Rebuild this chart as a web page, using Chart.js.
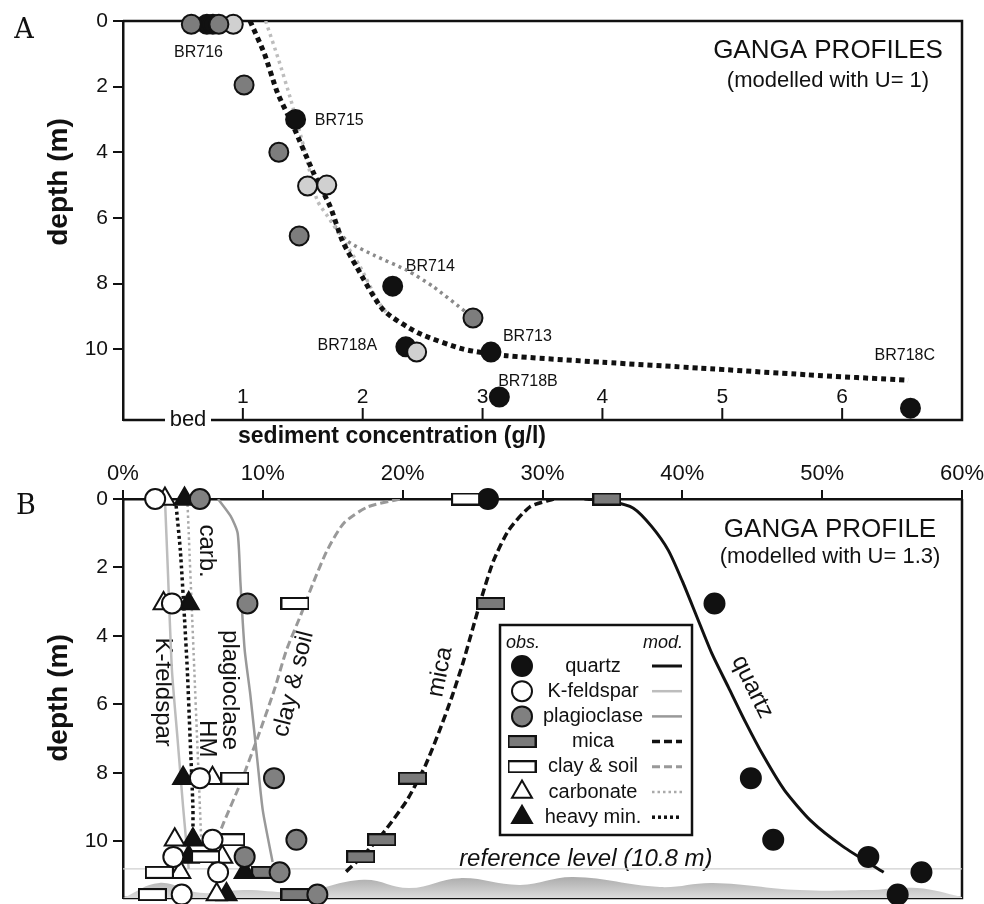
<!DOCTYPE html>
<html>
<head>
<meta charset="utf-8">
<title>Ganga profiles</title>
<script src="https://cdn.jsdelivr.net/npm/chart.js@4.4.1/dist/chart.umd.min.js"></script>
<style>
  html, body { margin: 0; padding: 0; background: #fff; }
  #wrap { position: relative; width: 984px; height: 904px; overflow: hidden; }
  canvas { position: absolute; left: 0; }
  #chartA { top: 0; }
  #chartB { top: 450px; }
</style>
</head>
<body>
<div id="wrap">
  <canvas id="chartA" width="984" height="450"></canvas>
  <canvas id="chartB" width="984" height="454"></canvas>
</div>
<script>
// ---------- panel A : sediment concentration (g/l) vs depth (m) ----------
const concTicks = [1, 2, 3, 4, 5, 6];
const depthTicks = [0, 2, 4, 6, 8, 10];

// observed samples, three grey shades
const blackConc  = [0.70, 0.75, 1.44, 2.25, 2.36, 3.07, 3.14, 6.57];
const blackDepth = [0.1, 0.1, 3.0, 8.08, 9.93, 10.09, 11.46, 11.8];
const midConc    = [0.57, 0.80, 1.01, 1.30, 1.47, 2.92];
const midDepth   = [0.1, 0.1, 1.95, 4.0, 6.55, 9.05];
const lightConc  = [0.92, 1.54, 1.70, 2.45];
const lightDepth = [0.1, 5.03, 5.0, 10.09];

// modelled profiles (U = 1)
const u1Conc  = [1.06, 1.18, 1.29, 1.42, 1.59, 1.73, 1.83, 1.95, 2.17, 2.46, 2.84, 3.2, 4.0, 4.82, 5.7, 6.55];
const u1Depth = [0, 1, 2.2, 3.2, 4.63, 5.67, 6.7, 7.5, 8.8, 9.5, 10.0, 10.2, 10.4, 10.58, 10.78, 10.95];
const lightModelConc  = [1.19, 1.30, 1.40, 1.52, 1.62, 1.73, 1.98, 2.12, 2.2];
const lightModelDepth = [0, 1.2, 2.4, 4.0, 5.46, 6.07, 7.5, 8.5, 8.9];
const midModelConc  = [1.73, 1.87, 2.1, 2.37, 2.59, 2.87];
const midModelDepth = [6.07, 6.7, 7.15, 7.6, 8.1, 8.9];

// ---------- panel B : composition (%) vs depth (m) ----------
const pctTicks = [0, 10, 20, 30, 40, 50, 60];
const sampleDepths = [0, 3.05, 8.15, 9.95, 10.45, 10.9, 11.55];
const quartzObs = [26.1, 42.3, 44.9, 46.5, 53.3, 57.1, 55.4];
const kfeldObs  = [2.3, 3.5, 5.5, 6.4, 3.6, 6.8, 4.2];
const plagObs   = [5.5, 8.9, 10.8, 12.4, 8.7, 11.2, 13.9];
const micaObs   = [34.6, 26.3, 20.7, 18.5, 17.0, 10.2, 12.3];
const clayObs   = [24.5, 12.3, 8.0, 7.7, 5.9, 2.6, 2.1];
const carbObs   = [3.0, 2.9, 6.4, 3.7, 7.1, 4.1, 6.7];
const heavyObs  = [4.4, 4.7, 4.3, 5.0, 4.7, 8.7, 7.4];

// modelled profiles (U = 1.3)
const quartzModPct   = [33, 35, 36.5, 37.8, 39.0, 40.0, 41.0, 42.1, 43.3, 44.5, 45.8, 47.3, 49.2, 51.5, 54.4];
const quartzModDepth = [0, 0.08, 0.27, 0.8, 1.5, 2.4, 3.4, 4.5, 5.5, 6.5, 7.5, 8.5, 9.4, 10.15, 10.9];
const micaModPct     = [30.8, 29.1, 27.6, 26.5, 25.7, 25.0, 24.3, 23.5, 22.6, 21.6, 20.3, 18.7, 17.2, 15.9];
const micaModDepth   = [0, 0.23, 0.9, 1.8, 2.8, 3.8, 4.8, 5.8, 6.8, 7.8, 8.8, 9.7, 10.4, 10.9];
const clayModPct     = [19.8, 17.5, 15.8, 14.6, 13.6, 12.7, 11.7, 10.8, 9.6, 8.4, 7.2, 6.2];
const clayModDepth   = [0, 0.23, 0.7, 1.5, 2.45, 3.4, 4.4, 5.6, 7.0, 8.3, 9.45, 10.5];
const plagModPct     = [6.8, 7.7, 8.2, 8.4, 8.7, 9.1, 9.6, 10.0, 10.7];
const plagModDepth   = [0, 0.5, 1.0, 2.45, 4.4, 5.7, 7.6, 9.1, 10.6];
const kfeldModPct    = [3.0, 3.2, 3.5, 3.9, 4.3, 4.7];
const kfeldModDepth  = [0, 2, 5, 7, 9, 10.8];
const carbModPct     = [4.6, 4.7, 4.9, 5.1, 5.3, 5.5, 5.6];
const carbModDepth   = [0, 1, 3, 5, 7, 9, 10];
const heavyModPct    = [3.8, 4.1, 4.4, 4.6, 4.8, 5.0, 5.0];
const heavyModDepth  = [0.2, 1.5, 3.5, 5, 7, 9, 9.8];

const referenceDepth = 10.8;
// river bed outline under the reference level
const bedPct   = [0, 2.6, 5.5, 8.6, 12.7, 17.2, 20.5, 24.1, 28.4, 32.2, 38.4, 42.2, 48.4, 53.2, 56.8, 60];
const bedDepth = [11.65, 11.21, 11.5, 11.42, 11.47, 11.12, 11.36, 11.07, 11.27, 11.04, 11.33, 11.21, 11.42, 11.42, 11.36, 11.62];

const legendNames = ['quartz', 'K-feldspar', 'plagioclase', 'mica', 'clay & soil', 'carbonate', 'heavy min.'];

// ---------- drawing ----------
const INK = '#111';
const SANS = "'Liberation Sans', Arial, Helvetica, sans-serif";
const SERIF = "'DejaVu Serif', 'Liberation Serif', serif";
Chart.defaults.font.family = SANS;
Chart.defaults.color = INK;

const pts = (xs, ys) => xs.map((v, i) => ({ x: v, y: ys[i] }));

function boxMarker(fill) {
  const c = document.createElement('canvas');
  c.width = 29; c.height = 13;
  const g = c.getContext('2d');
  g.fillStyle = fill; g.fillRect(1, 1, 27, 11);
  g.strokeStyle = INK; g.lineWidth = 2; g.strokeRect(1, 1, 27, 11);
  return c;
}

function obs(data, style, fill, radius) {
  return {
    data, showLine: false, pointStyle: style, pointRadius: radius, pointHoverRadius: radius,
    pointBackgroundColor: fill, pointBorderColor: INK, pointBorderWidth: 2, order: 0, clip: false
  };
}

function model(data, color, width, dash) {
  return {
    data, showLine: true, borderColor: color, borderWidth: width, borderDash: dash,
    borderCapStyle: 'butt', pointRadius: 0, tension: 0.22, fill: false, order: 2
  };
}

// keep the plot area exactly where we put it (no extra room for the end labels)
function noPad(s) {
  s.paddingTop = 0; s.paddingBottom = 0; s.paddingLeft = 0; s.paddingRight = 0;
}

function depthAxis(max) {
  return {
    type: 'linear', reverse: true, min: 0, max,
    afterBuildTicks: s => { s.ticks = depthTicks.map(v => ({ value: v })); },
    afterFit: s => { s.width = 123; noPad(s); },
    ticks: { color: INK, font: { size: 21 }, padding: 5 },
    grid: { drawOnChartArea: false, color: INK, lineWidth: 2, tickLength: 10 },
    border: { color: INK, width: 2.5 }
  };
}

function text(ctx, str, x, y, font, align = 'center', rot = 0) {
  ctx.save();
  ctx.translate(x, y);
  ctx.rotate(rot * Math.PI / 180);
  ctx.font = font;
  ctx.fillStyle = INK;
  ctx.textAlign = align;
  ctx.textBaseline = 'middle';
  ctx.fillText(str, 0, 0);
  ctx.restore();
}

// sample names, placed next to their points (data coordinates)
const sampleLabels = [
  { t: 'BR716', x: 0.63, y: 0.95, a: 'center' },
  { t: 'BR715', x: 1.60, y: 3.02, a: 'left' },
  { t: 'BR714', x: 2.36, y: 7.47, a: 'left' },
  { t: 'BR713', x: 3.17, y: 9.63, a: 'left' },
  { t: 'BR718A', x: 2.12, y: 9.9, a: 'right' },
  { t: 'BR718B', x: 3.13, y: 10.98, a: 'left' },
  { t: 'BR718C', x: 6.27, y: 10.2, a: 'left' }
];

const panelA = {
  id: 'panelA',
  beforeDatasetsDraw(chart) {
    const { ctx, chartArea: a, scales: { x, y } } = chart;
    ctx.save();
    ctx.strokeStyle = INK;
    ctx.lineWidth = 2.5;
    ctx.beginPath();
    ctx.moveTo(a.left, a.top); ctx.lineTo(a.right, a.top); ctx.lineTo(a.right, a.bottom); ctx.lineTo(211, a.bottom);
    ctx.moveTo(165, a.bottom); ctx.lineTo(a.left, a.bottom);
    ctx.stroke();
    ctx.lineWidth = 2;
    concTicks.forEach(v => {
      const px = x.getPixelForValue(v);
      ctx.beginPath(); ctx.moveTo(px, a.bottom); ctx.lineTo(px, a.bottom - 12); ctx.stroke();
      text(ctx, String(v), px, a.bottom - 23, `21px ${SANS}`);
    });
    ctx.restore();
    text(ctx, 'bed', 188, a.bottom, `22px ${SANS}`);
    sampleLabels.forEach(l => text(ctx, l.t, x.getPixelForValue(l.x), y.getPixelForValue(l.y), `16px ${SANS}`, l.a));
    text(ctx, 'GANGA PROFILES', 828, 51, `26px ${SANS}`);
    text(ctx, '(modelled with U= 1)', 828, 81, `22px ${SANS}`);
    text(ctx, 'sediment concentration (g/l)', 392, 437, `bold 23px ${SANS}`);
    text(ctx, 'depth (m)', 59, 182, `bold 28px ${SANS}`, 'center', -90);
    text(ctx, 'A', 24, 31, `27px ${SERIF}`);
  }
};

new Chart(document.getElementById('chartA'), {
  type: 'scatter',
  data: {
    datasets: [
      model(pts(u1Conc, u1Depth), INK, 5, [5, 4]),
      model(pts(lightModelConc, lightModelDepth), '#bdbdbd', 3.5, [3, 4]),
      model(pts(midModelConc, midModelDepth), '#8a8a8a', 3.5, [3, 4]),
      obs(pts(midConc, midDepth), 'circle', '#7d7d7d', 9.5),
      obs(pts(lightConc, lightDepth), 'circle', '#d0d0d0', 9.5),
      obs(pts(blackConc, blackDepth), 'circle', INK, 9.5)
    ]
  },
  options: {
    responsive: false,
    animation: false,
    events: [],
    layout: { autoPadding: false, padding: { left: 0, top: 21, right: 22, bottom: 30 } },
    plugins: { legend: { display: false }, tooltip: { enabled: false } },
    scales: {
      x: { type: 'linear', min: 0, max: 7, display: false },
      y: depthAxis(12.16)
    }
  },
  plugins: [panelA]
});

// ---------- panel B ----------
const micaBox = boxMarker('#7a7a7a');
const clayBox = boxMarker('#ffffff');

const minerals = [
  { obs: quartzObs, style: 'circle', fill: INK, r: 10, pct: quartzModPct, depth: quartzModDepth, color: INK, width: 3, dash: [] },
  { obs: kfeldObs, style: 'circle', fill: '#fff', r: 10, pct: kfeldModPct, depth: kfeldModDepth, color: '#bdbdbd', width: 2.5, dash: [] },
  { obs: plagObs, style: 'circle', fill: '#808080', r: 10, pct: plagModPct, depth: plagModDepth, color: '#999', width: 2.5, dash: [] },
  { obs: micaObs, style: micaBox, fill: '#7a7a7a', r: 8, pct: micaModPct, depth: micaModDepth, color: INK, width: 3.5, dash: [8, 4] },
  { obs: clayObs, style: clayBox, fill: '#fff', r: 8, pct: clayModPct, depth: clayModDepth, color: '#999', width: 3, dash: [8, 4] },
  { obs: carbObs, style: 'triangle', fill: '#fff', r: 11.5, pct: carbModPct, depth: carbModDepth, color: '#aaa', width: 2.5, dash: [2.5, 3] },
  { obs: heavyObs, style: 'triangle', fill: INK, r: 11.5, pct: heavyModPct, depth: heavyModDepth, color: INK, width: 3.5, dash: [3, 3] }
];

const curveLabels = [
  { t: 'carb.', x: 6.0, y: 1.52, rot: 90 },
  { t: 'K-feldspar', x: 2.8, y: 5.64, rot: 90 },
  { t: 'HM', x: 6.0, y: 7.0, rot: 90 },
  { t: 'plagioclase', x: 7.65, y: 5.58, rot: 90 },
  { t: 'clay & soil', x: 12.2, y: 5.4, rot: -76 },
  { t: 'mica', x: 22.7, y: 5.05, rot: -79 },
  { t: 'quartz', x: 45.0, y: 5.49, rot: 64 }
];

function drawLegend(ctx) {
  const L = { left: 500, top: 175, right: 692, bottom: 385 };
  ctx.save();
  ctx.fillStyle = '#fff';
  ctx.fillRect(L.left, L.top, L.right - L.left, L.bottom - L.top);
  ctx.strokeStyle = INK; ctx.lineWidth = 2.5;
  ctx.strokeRect(L.left, L.top, L.right - L.left, L.bottom - L.top);
  ctx.restore();
  text(ctx, 'obs.', 523, 193, `italic 18px ${SANS}`);
  text(ctx, 'mod.', 663, 193, `italic 18px ${SANS}`);
  minerals.forEach((m, i) => {
    const yy = 216 + i * 25.2;
    ctx.save();
    ctx.fillStyle = m.fill; ctx.strokeStyle = INK; ctx.lineWidth = 2;
    Chart.helpers.drawPoint(ctx, { pointStyle: m.style, radius: m.r, borderWidth: 2, rotation: 0 }, 522, yy);
    ctx.restore();
    text(ctx, legendNames[i], 593, yy, `20px ${SANS}`);
    ctx.save();
    ctx.strokeStyle = m.color; ctx.lineWidth = m.width; ctx.setLineDash(m.dash);
    ctx.beginPath(); ctx.moveTo(652, yy); ctx.lineTo(682, yy); ctx.stroke();
    ctx.restore();
  });
}

const panelB = {
  id: 'panelB',
  beforeDatasetsDraw(chart) {
    const { ctx, chartArea: a, scales: { x, y } } = chart;
    ctx.save();
    ctx.strokeStyle = INK; ctx.lineWidth = 2.5;
    ctx.beginPath();
    ctx.moveTo(a.right, a.top); ctx.lineTo(a.right, a.bottom); ctx.lineTo(a.left, a.bottom);
    ctx.stroke();
    ctx.restore();
    curveLabels.forEach(l => text(ctx, l.t, x.getPixelForValue(l.x), y.getPixelForValue(l.y), `24px ${SANS}`, 'center', l.rot));
    text(ctx, 'GANGA PROFILE', 830, 80, `26px ${SANS}`);
    text(ctx, '(modelled with U= 1.3)', 830, 107, `22px ${SANS}`);
    text(ctx, 'reference level (10.8 m)', x.getPixelForValue(33.1), y.getPixelForValue(referenceDepth) - 10, `italic 24px ${SANS}`);
    text(ctx, 'depth (m)', 59, 248, `bold 28px ${SANS}`, 'center', -90);
    text(ctx, 'B', 26, 57, `27px ${SERIF}`);
  },
  afterDatasetsDraw(chart) {
    drawLegend(chart.ctx);
  }
};

const bDatasets = [
  {
    data: pts(bedPct, bedDepth), showLine: true, tension: 0.4, pointRadius: 0, borderWidth: 0,
    borderColor: 'rgba(0,0,0,0)', fill: { value: 11.65 }, order: 6,
    backgroundColor: c => {
      const { ctx, chartArea } = c.chart;
      if (!chartArea) return '#bbb';
      const g = ctx.createLinearGradient(0, chartArea.bottom - 22, 0, chartArea.bottom);
      g.addColorStop(0, '#a9a9a9');
      g.addColorStop(1, '#dcdcdc');
      return g;
    }
  },
  { data: pts([0, 60], [referenceDepth, referenceDepth]), showLine: true, pointRadius: 0, borderColor: '#cfcfcf', borderWidth: 1.2, fill: false, order: 5 }
];
minerals.forEach(m => bDatasets.push(model(pts(m.pct, m.depth), m.color, m.width, m.dash)));
[1, 2, 4, 5, 6, 3, 0].forEach(i => {
  const m = minerals[i];
  bDatasets.push(obs(pts(m.obs, sampleDepths), m.style, m.fill, m.r));
});

new Chart(document.getElementById('chartB'), {
  type: 'scatter',
  data: { datasets: bDatasets },
  options: {
    responsive: false,
    animation: false,
    events: [],
    layout: { autoPadding: false, padding: { left: 0, top: 0, right: 22, bottom: 6 } },
    plugins: { legend: { display: false }, tooltip: { enabled: false } },
    scales: {
      x: {
        type: 'linear', position: 'top', min: 0, max: 60,
        afterBuildTicks: s => { s.ticks = pctTicks.map(v => ({ value: v })); },
        afterFit: s => { s.height = 49; noPad(s); },
        ticks: { color: INK, font: { size: 22 }, padding: 3, maxRotation: 0, autoSkip: false, callback: v => v + '%' },
        grid: { drawOnChartArea: false, color: INK, lineWidth: 2, tickLength: 9 },
        border: { color: INK, width: 2.5 }
      },
      y: depthAxis(11.65)
    }
  },
  plugins: [panelB]
});
</script>
</body>
</html>
